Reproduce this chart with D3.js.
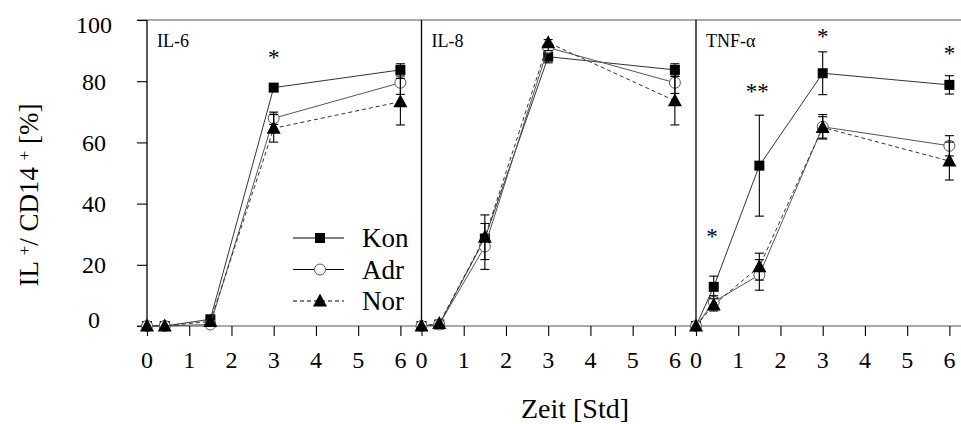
<!DOCTYPE html>
<html lang="de">
<head>
<meta charset="UTF-8">
<title>IL+ / CD14+</title>
<style>
  body { margin: 0; background: #fff; }
  svg { display: block; font-family: "Liberation Serif", "Times New Roman", serif; }
</style>
</head>
<body>
<div id="chart"></div>
<script src="https://cdn.jsdelivr.net/npm/d3@7"></script>
<script>
  const WIDTH = 961;
  const HEIGHT = 424;

  // time points [Std]
  const TIMES = [0, 0.42, 1.5, 3, 6];
  const X_TICKS = [0, 1, 2, 3, 4, 5, 6];
  const Y_TICKS = [0, 20, 40, 60, 80, 100];
  const PANELS = ["IL-6", "IL-8", "TNF-α"];
  const SERIES = ["Kon", "Adr", "Nor"];

  // IL-6
  const IL6_KON = [0, 0, 2.2, 77.9, 83.7];
  const IL6_KON_ERR = [0, 0, 0.5, 1, 2];
  const IL6_ADR = [0, 0, 0.5, 67.9, 79.5];
  const IL6_ADR_ERR = [0, 0, 0.5, 2, 3.8];
  const IL6_NOR = [0, 0, 1.5, 64.6, 73.3];
  const IL6_NOR_ERR = [0, 0, 0.5, 4.5, 7.6];

  // IL-8
  const IL8_KON = [0, 0.5, 28.6, 88.0, 83.7];
  const IL8_KON_ERR = [0, 0, 1, 2, 2];
  const IL8_ADR = [0, 0.5, 26, 91, 79.5];
  const IL8_ADR_ERR = [0, 0, 7.5, 1, 3.5];
  const IL8_NOR = [0, 0.8, 29, 92.6, 73.6];
  const IL8_NOR_ERR = [0, 0, 7.3, 1, 7.9];

  // TNF-alpha
  const TNF_KON = [0, 12.8, 52.4, 82.6, 78.8];
  const TNF_KON_ERR = [0, 3.5, 16.5, 7, 3];
  const TNF_ADR = [0, 7.9, 16.7, 65.1, 58.9];
  const TNF_ADR_ERR = [0, 2, 5, 4, 3.3];
  const TNF_NOR = [0, 6.9, 19.4, 64.9, 53.9];
  const TNF_NOR_ERR = [0, 2, 4.4, 3.5, 6.2];

  // significance marks
  const SIG_PANEL = [0, 2, 2, 2, 2];
  const SIG_TIME = [3, 0.38, 1.45, 3, 6];
  const SIG_VALUE = [89, 30.5, 77.7, 95.7, 90.2];
  const SIG_TEXT = ["*", "*", "**", "*", "*"];

  const PANEL_VALUES = [
    [IL6_KON, IL6_ADR, IL6_NOR],
    [IL8_KON, IL8_ADR, IL8_NOR],
    [TNF_KON, TNF_ADR, TNF_NOR]
  ];
  const PANEL_ERRORS = [
    [IL6_KON_ERR, IL6_ADR_ERR, IL6_NOR_ERR],
    [IL8_KON_ERR, IL8_ADR_ERR, IL8_NOR_ERR],
    [TNF_KON_ERR, TNF_ADR_ERR, TNF_NOR_ERR]
  ];

  const LEFT = 147;
  const TOP = 20;
  const BOTTOM = 326;
  const PANEL_W = 274.5;
  const TICK = 10;

  const xScale = d3.scaleLinear().domain([0, 6.5]).range([0, PANEL_W]);
  const yScale = d3.scaleLinear().domain([0, 100]).range([BOTTOM, TOP]);

  const svg = d3.select("#chart").append("svg")
    .attr("width", WIDTH)
    .attr("height", HEIGHT);

  // frame lines (top and bottom, gray)
  svg.append("line")
    .attr("x1", LEFT - TICK).attr("x2", WIDTH)
    .attr("y1", TOP).attr("y2", TOP)
    .attr("stroke", "#8c8c8c").attr("stroke-width", 1.3);

  // y axis
  const yAxis = svg.append("g")
    .attr("transform", `translate(${LEFT},0)`)
    .call(d3.axisLeft(yScale).tickValues(Y_TICKS).tickSize(TICK).tickFormat(""));
  yAxis.select(".domain").remove();
  yAxis.selectAll(".tick line").attr("stroke", "#000").attr("stroke-width", 1.1);

  svg.append("g").selectAll("text")
    .data(Y_TICKS)
    .join("text")
    .attr("x", 94)
    .attr("y", d => yScale(d) + (d === 0 ? -6 : d === 100 ? 5 : 0))
    .attr("dy", "0.35em")
    .attr("text-anchor", "middle")
    .attr("font-size", 24)
    .text(d => d);

  const symbolMarks = {
    Kon: g => g.append("rect").attr("x", -5).attr("y", -5).attr("width", 10).attr("height", 10)
      .attr("fill", "#000"),
    Adr: g => g.append("circle").attr("r", 5.5).attr("fill", "#fff")
      .attr("stroke", "#555").attr("stroke-width", 1),
    Nor: g => g.append("path").attr("d", "M0,-7.5L7,5.5L-7,5.5Z").attr("fill", "#000")
  };
  const lineStyle = {
    Kon: { color: "#333", dash: null },
    Adr: { color: "#555", dash: null },
    Nor: { color: "#333", dash: "4,3" }
  };

  PANELS.forEach((name, p) => {
    const x0 = LEFT + p * PANEL_W;
    const g = svg.append("g").attr("transform", `translate(${x0},0)`);

    // x axis ticks
    const xAxis = g.append("g")
      .attr("transform", `translate(0,${BOTTOM})`)
      .call(d3.axisBottom(xScale).tickValues(X_TICKS).tickSize(TICK).tickFormat(""));
    xAxis.select(".domain").remove();
    xAxis.selectAll(".tick line").attr("stroke", "#000").attr("stroke-width", 1.1);

    g.append("g").selectAll("text")
      .data(X_TICKS)
      .join("text")
      .attr("x", d => xScale(d))
      .attr("y", 368)
      .attr("text-anchor", "middle")
      .attr("font-size", 24)
      .text(d => d);

    // panel left border
    g.append("line")
      .attr("x1", 0).attr("x2", 0)
      .attr("y1", TOP).attr("y2", BOTTOM)
      .attr("stroke", "#000").attr("stroke-width", 1.3);

    g.append("text")
      .attr("x", 10)
      .attr("y", 47)
      .attr("font-size", 18)
      .text(name);

    const line = d3.line()
      .x(d => xScale(d.t))
      .y(d => yScale(d.v));

    SERIES.forEach((s, i) => {
      const vals = PANEL_VALUES[p][i];
      const errs = PANEL_ERRORS[p][i];
      const pts = TIMES.map((t, k) => ({ t: t, v: vals[k], e: errs[k] }));
      const sg = g.append("g");

      sg.append("path")
        .datum(pts)
        .attr("d", line)
        .attr("fill", "none")
        .attr("stroke", lineStyle[s].color)
        .attr("stroke-width", 1)
        .attr("stroke-dasharray", lineStyle[s].dash);

      sg.selectAll("g.mark")
        .data(pts)
        .join("g")
        .attr("class", "mark")
        .attr("transform", d => `translate(${xScale(d.t)},${yScale(d.v)})`)
        .each(function () { symbolMarks[s](d3.select(this)); });

      // error bars on top of the symbols
      const eb = sg.selectAll("g.err")
        .data(pts.filter(d => d.e > 0.6))
        .join("g")
        .attr("class", "err");
      eb.append("line")
        .attr("x1", d => xScale(d.t)).attr("x2", d => xScale(d.t))
        .attr("y1", d => yScale(d.v - d.e)).attr("y2", d => yScale(d.v + d.e));
      eb.append("line")
        .attr("x1", d => xScale(d.t) - 4.5).attr("x2", d => xScale(d.t) + 4.5)
        .attr("y1", d => yScale(d.v + d.e)).attr("y2", d => yScale(d.v + d.e));
      eb.append("line")
        .attr("x1", d => xScale(d.t) - 4.5).attr("x2", d => xScale(d.t) + 4.5)
        .attr("y1", d => yScale(d.v - d.e)).attr("y2", d => yScale(d.v - d.e));
      eb.selectAll("line").attr("stroke", "#000").attr("stroke-width", 1.1);
    });

    // significance asterisks
    SIG_PANEL.forEach((sp, k) => {
      if (sp !== p) return;
      g.append("text")
        .attr("x", xScale(SIG_TIME[k]))
        .attr("y", yScale(SIG_VALUE[k]) + 11)
        .attr("text-anchor", "middle")
        .attr("font-size", 23)
        .attr("fill", "#000")
        .text(SIG_TEXT[k]);
    });
  });

  // bottom axis line (gray)
  svg.append("line")
    .attr("x1", LEFT - TICK).attr("x2", WIDTH)
    .attr("y1", BOTTOM).attr("y2", BOTTOM)
    .attr("stroke", "#8c8c8c").attr("stroke-width", 1.3)
    .lower();

  // legend in first panel
  const legend = svg.append("g");
  SERIES.forEach((s, i) => {
    const ly = 238 + i * 31.5;
    const lg = legend.append("g").attr("transform", `translate(320,${ly})`);
    lg.append("line")
      .attr("x1", -27).attr("x2", 24)
      .attr("stroke", "#000").attr("stroke-width", 1.1)
      .attr("stroke-dasharray", lineStyle[s].dash);
    symbolMarks[s](lg);
    lg.append("text")
      .attr("x", 42)
      .attr("dy", "0.35em")
      .attr("font-size", 27)
      .text(s);
  });

  // axis titles
  svg.append("text")
    .attr("x", 575)
    .attr("y", 418)
    .attr("text-anchor", "middle")
    .attr("font-size", 28)
    .text("Zeit [Std]");

  const yt = svg.append("text")
    .attr("transform", "translate(38,195) rotate(-90)")
    .attr("text-anchor", "middle")
    .attr("font-size", 27);
  yt.append("tspan").text("IL ");
  yt.append("tspan").attr("font-size", 17).attr("baseline-shift", "45%").text("+");
  yt.append("tspan").text("/ CD14 ");
  yt.append("tspan").attr("font-size", 17).attr("baseline-shift", "45%").text("+");
  yt.append("tspan").text(" [%]");
</script>
</body>
</html>
